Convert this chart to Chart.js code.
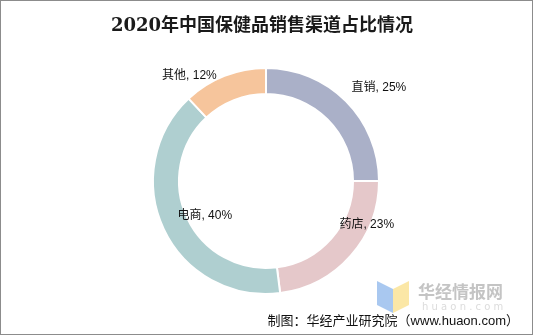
<!DOCTYPE html>
<html>
<head>
<meta charset="utf-8">
<script src="https://cdn.jsdelivr.net/npm/chart.js@4.4.1/dist/chart.umd.min.js"></script>
<style>
  html, body { margin: 0; padding: 0; background: #fff; }
  #wrap { position: relative; width: 533px; height: 335px; }
</style>
</head>
<body>
<div id="wrap"><canvas id="pie"></canvas></div>
<script>
"use strict";

const titleText = '2020年中国保健品销售渠道占比情况';
const sourceText = '制图：华经产业研究院（www.huaon.com）';

const channels = ['直销', '药店', '电商', '其他'];
const shares = [25, 23, 40, 12];
const sliceColors = ['#aab0c8', '#e5c8ca', '#afcfd0', '#f6c59c'];

// label offset from each slice's anchor point (px)
const labelShift = [[33, -13], [16, -31], [41, -13], [-35, 0]];

const CJK = '"Liberation Sans", "Noto Sans CJK SC", sans-serif';

const decor = {
    id: 'decor',
    afterDraw(chart) {
        const c = chart.ctx;
        const W = chart.width, H = chart.height;
        c.save();

        // frame
        c.strokeStyle = '#8c8c8c';
        c.lineWidth = 1;
        c.strokeRect(0.5, 0.5, W - 1, H - 1);

        // title
        c.fillStyle = '#1a1a1a';
        c.font = 'bold 18px "DejaVu Serif", "Noto Sans CJK SC", serif';
        c.textAlign = 'center';
        c.textBaseline = 'middle';
        c.fillText(titleText, 262, 26);

        // slice labels
        const meta = chart.getDatasetMeta(0);
        c.font = '12px ' + CJK;
        c.fillStyle = '#111';
        meta.data.forEach((arc, i) => {
            const mid = (arc.startAngle + arc.endAngle) / 2;
            const r = arc.outerRadius;
            const x = arc.x + Math.cos(mid) * r + labelShift[i][0];
            const y = arc.y + Math.sin(mid) * r + labelShift[i][1];
            c.fillText(channels[i] + ', ' + shares[i] + '%', x, y);
        });

        // watermark
        c.fillStyle = '#a9c8f0';
        c.beginPath();
        c.moveTo(377, 281); c.lineTo(393, 289); c.lineTo(393, 313); c.lineTo(377, 305);
        c.closePath(); c.fill();
        c.fillStyle = '#fbe7a6';
        c.beginPath();
        c.moveTo(393, 289); c.lineTo(409, 281); c.lineTo(409, 305); c.lineTo(393, 313);
        c.closePath(); c.fill();
        c.fillStyle = '#c4c4c4';
        c.font = 'bold 17px "Noto Sans CJK SC", sans-serif';
        c.textAlign = 'left';
        c.fillText('华经情报网', 418, 292);
        c.font = '10px "DejaVu Sans", sans-serif';
        c.fillStyle = '#dcdcdc';
        c.fillText('h u a o n . c o m', 422, 307);

        // source
        c.fillStyle = '#111';
        c.font = '13px ' + CJK;
        c.textAlign = 'right';
        c.fillText(sourceText, 519, 321);
        c.restore();
    }
};

new Chart(document.getElementById('pie'), {
    type: 'doughnut',
    data: {
        labels: channels,
        datasets: [{
            data: shares,
            backgroundColor: sliceColors,
            borderColor: '#fff',
            borderWidth: 2,
            hoverOffset: 0
        }]
    },
    options: {
        responsive: true,
        maintainAspectRatio: false,
        animation: false,
        cutout: '77%',
        layout: { padding: { left: 152, right: 153, top: 67, bottom: 40 } },
        plugins: {
            legend: { display: false },
            tooltip: { enabled: false }
        }
    },
    plugins: [decor]
});
</script>
</body>
</html>
